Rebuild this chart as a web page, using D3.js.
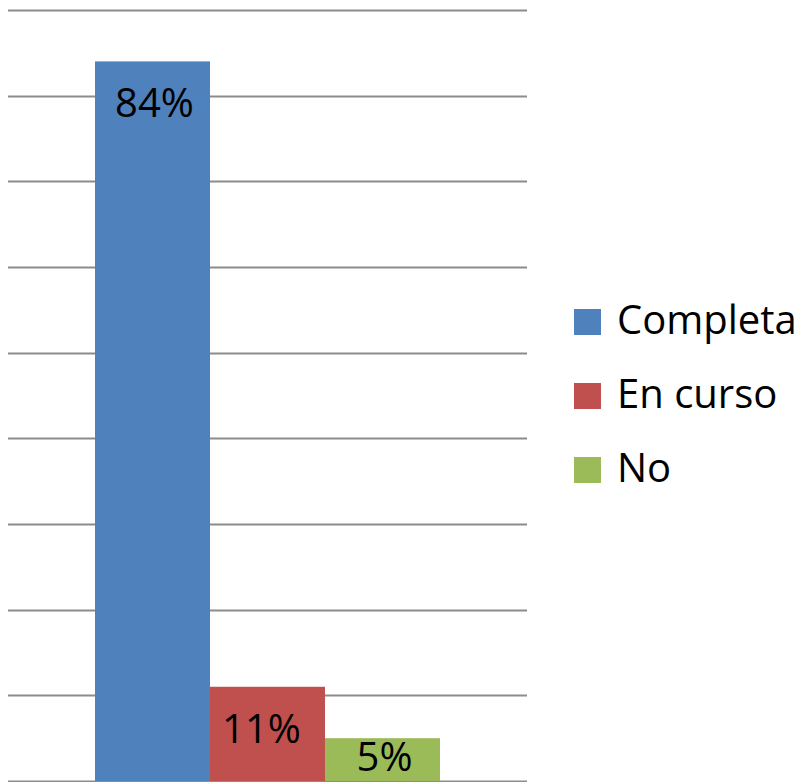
<!DOCTYPE html>
<html>
<head>
<meta charset="utf-8">
<script src="https://cdn.jsdelivr.net/npm/d3@7"></script>
<style>
  body { margin: 0; background: #fff; }
  svg { display: block; }
</style>
</head>
<body>
<div class="canvas"></div>
<script>
// chart data
const categories = ['Completa', 'En curso', 'No'];
const values = [84, 11, 5];
const colors = ['#4F81BD', '#C0504D', '#9BBB59'];
const yTicks = [0, 10, 20, 30, 40, 50, 60, 70, 80, 90];

const width = 808, height = 782;
const margin = {top: 10, right: 281, bottom: 1, left: 8};
const graphWidth = width - margin.left - margin.right;
const graphHeight = height - margin.top - margin.bottom;
const font = "'Open Sans', 'Noto Sans', sans-serif";

const svg = d3.select('.canvas')
  .append('svg')
    .attr('width', width)
    .attr('height', height);

const graph = svg.append('g')
  .attr('transform', `translate(${margin.left}, ${margin.top})`);

const y = d3.scaleLinear()
  .domain([0, 90])
  .range([graphHeight, 0]);

// bars sit side by side in the middle of the plot
const x = d3.scaleBand()
  .domain(categories)
  .range([87, 432])
  .paddingInner(0)
  .paddingOuter(0);

// gridlines
graph.selectAll('line.grid')
  .data(yTicks)
  .enter()
  .append('line')
    .attr('class', 'grid')
    .attr('x1', 0)
    .attr('x2', graphWidth)
    .attr('y1', d => Math.round(y(d)) + 0.5)
    .attr('y2', d => Math.round(y(d)) + 0.5)
    .attr('stroke', '#8c8c8c')
    .attr('stroke-width', 2);

// bars
graph.selectAll('rect.bar')
  .data(values)
  .enter()
  .append('rect')
    .attr('class', 'bar')
    .attr('x', (d, i) => x(categories[i]))
    .attr('y', d => y(d))
    .attr('width', x.bandwidth())
    .attr('height', d => graphHeight - y(d))
    .attr('fill', (d, i) => colors[i]);

// value labels inside the top of each bar
graph.selectAll('text.label')
  .data(values)
  .enter()
  .append('text')
    .attr('class', 'label')
    .attr('x', (d, i) => x(categories[i]) + x.bandwidth() / 2 + (d === 11 ? -6 : 2))
    .attr('y', d => Math.min(y(d) + 56, graphHeight - 10))
    .attr('text-anchor', 'middle')
    .attr('font-family', font)
    .attr('font-size', 40)
    .attr('fill', '#000')
    .text(d => d + '%');

// legend
const legend = svg.append('g')
  .attr('transform', 'translate(574, 309)');

const items = legend.selectAll('g')
  .data(categories)
  .enter()
  .append('g')
    .attr('transform', (d, i) => `translate(0, ${i * 74})`);

items.append('rect')
  .attr('width', 27)
  .attr('height', 26)
  .attr('fill', (d, i) => colors[i]);

items.append('text')
  .attr('x', 43)
  .attr('y', 25)
  .attr('font-family', font)
  .attr('font-size', 40)
  .attr('fill', '#000')
  .text(d => d);
</script>
</body>
</html>
